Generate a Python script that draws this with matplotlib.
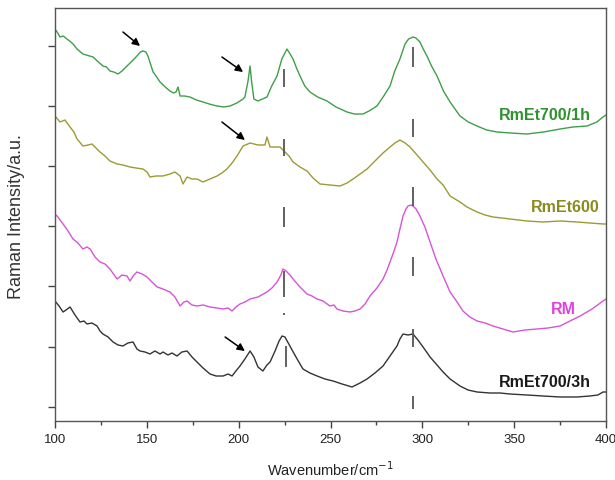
import numpy as np
import matplotlib
matplotlib.use("Agg")
import matplotlib.pyplot as plt

plt.rcParams['font.family'] = ['Liberation Sans', 'DejaVu Sans']

# ---- data: (wavenumber cm^-1, intensity a.u. with stacking offset) ----
rmet700_1h = [
    (100, 392), (101.5, 388), (102.7, 384), (104.5, 385), (106.5, 382), (108, 380),
    (109.8, 377), (112, 372), (115.2, 367), (117, 366), (120.7, 364), (123, 360),
    (126.1, 355), (128, 354), (129.9, 350), (132, 349), (134.3, 347), (136.5, 350),
    (139.2, 355), (142, 360), (144.6, 365), (146.5, 369), (147.9, 370), (149.5, 369),
    (150.6, 365), (152, 357), (153.4, 349), (155, 345), (157.2, 339), (160, 334),
    (162.6, 330), (164.5, 328), (165.9, 329), (167.0, 334), (168.1, 325), (170.5, 325),
    (173.5, 324), (177, 321), (180.6, 319), (184, 317), (188.2, 315), (192, 314),
    (195.3, 315), (199, 318), (202.4, 322), (203.4, 324), (205.1, 340), (206.2, 355),
    (207.0, 340), (208.3, 322), (210.5, 320), (213, 322), (215.4, 324), (218, 335),
    (220.9, 345), (223.5, 362), (226.3, 372), (228, 367), (229.6, 362), (231.5, 353),
    (233.4, 345), (236, 335), (238.8, 329), (243, 324), (248.1, 320), (253, 314),
    (259.0, 309), (263, 307), (267.7, 307), (271, 310), (275.3, 315), (279, 325),
    (282.4, 335), (285, 350), (287.8, 362), (290.6, 377), (292.5, 382), (294.9, 384),
    (296.5, 383), (298.7, 379), (300.5, 372), (302.5, 365), (305, 355), (308.0, 345),
    (311.5, 330), (315.1, 319), (320.5, 305), (325, 299), (329.8, 295), (335, 291),
    (340.7, 289), (348, 288), (357.0, 287), (366, 289), (375.0, 292), (382, 294),
    (389.7, 295), (395, 299), (398.4, 304), (400, 306),
]

rmet600 = [
    (100, 305), (102.7, 299), (105.4, 301), (108.2, 294), (110.3, 289), (112.0, 282),
    (115.2, 275), (118.0, 276), (120.1, 277), (122.3, 273), (124.5, 269), (127.2, 265),
    (129.9, 260), (133.8, 257), (137.0, 256), (140.8, 254), (144.1, 253), (147.9, 252),
    (150.1, 249), (151.7, 244), (155.0, 245), (158.8, 245), (162.6, 247), (165.3, 249),
    (168.1, 245), (169.7, 237), (171.9, 244), (174.6, 242), (177.3, 242), (180.6, 239),
    (184.4, 242), (188.2, 245), (190.9, 248), (193.6, 252), (196.4, 258), (199.1, 265),
    (202.4, 275), (206.2, 278), (210.5, 276), (214.3, 276), (215.4, 284), (217.1, 274),
    (219.8, 274), (222.5, 274), (225.2, 269), (227.4, 265), (229.6, 259), (233.4, 254),
    (237.2, 250), (240.5, 243), (244.3, 237), (249.7, 236), (255.2, 235), (259.0, 238),
    (262.3, 242), (266.1, 247), (269.9, 252), (272.6, 257), (275.3, 262), (278.6, 268),
    (282.4, 274), (285.1, 278), (287.8, 281), (290.6, 278), (293.3, 274), (297.1, 266),
    (300.4, 259), (304.2, 251), (308.0, 242), (311.3, 236), (315.1, 225), (317.8, 222),
    (320.5, 219), (324.3, 214), (329.8, 209), (334.1, 206), (338.5, 204), (343.4, 203),
    (347.7, 202), (357.0, 200), (365.7, 199), (375.0, 200), (384.2, 199), (391.3, 198),
    (398.4, 197), (400, 197),
]

rm = [
    (100, 207), (101.6, 204), (104.4, 197), (107.1, 190), (109.8, 182), (112.5, 178),
    (115.2, 172), (117.4, 174), (119.1, 172), (121.8, 164), (124.5, 159), (127.2, 157),
    (129.9, 152), (133.8, 142), (136.5, 146), (139.2, 145), (140.8, 140), (143.0, 146),
    (144.6, 149), (147.4, 147), (150.1, 144), (152.8, 139), (155.6, 134), (158.8, 132),
    (162.6, 129), (165.3, 124), (168.1, 115), (170.2, 119), (171.9, 120), (174.6, 116),
    (177.3, 115), (180.6, 116), (184.4, 114), (188.2, 113), (191.5, 112), (194.2, 113),
    (196.4, 110), (198.5, 114), (200.7, 117), (203.4, 119), (206.2, 122), (210.5, 124),
    (215.4, 129), (218.1, 133), (220.9, 139), (223.0, 146), (224.1, 152), (225.8, 150),
    (227.9, 146), (229.6, 142), (233.4, 134), (237.2, 127), (239.9, 125), (242.7, 122),
    (245.9, 120), (249.7, 115), (251.9, 116), (253.5, 112), (256.8, 110), (260.6, 109),
    (263.3, 110), (266.1, 112), (268.8, 117), (271.5, 125), (275.3, 133), (278.6, 142),
    (280.8, 151), (282.4, 159), (284.6, 170), (286.2, 179), (287.8, 192), (289.5, 205),
    (291.1, 212), (292.2, 215), (293.8, 216), (294.9, 215), (296.6, 212), (298.7, 205),
    (301.4, 194), (304.2, 179), (307.4, 162), (311.3, 145), (315.1, 129), (318.9, 119),
    (322.1, 110), (325.9, 104), (329.8, 100), (334.1, 98), (338.5, 95), (343.9, 92),
    (349.4, 89), (355.9, 91), (362.4, 92), (368.4, 93), (375.0, 95), (380.4, 100),
    (385.9, 105), (392.4, 112), (398.4, 120), (400, 122),
]

rmet700_3h = [
    (100, 120), (102.2, 115), (104.4, 109), (106.0, 111), (108.2, 114), (110.9, 106),
    (113.6, 99), (115.8, 100), (117.4, 97), (120.1, 98), (122.9, 95), (124.5, 90),
    (126.1, 87), (128.9, 84), (131.6, 79), (134.3, 76), (137.0, 75), (139.7, 78),
    (142.5, 79), (144.6, 72), (146.3, 70), (149.0, 69), (151.7, 67), (154.4, 70),
    (157.2, 67), (158.8, 69), (161.5, 66), (163.7, 68), (166.4, 65), (169.1, 69),
    (171.9, 70), (174.6, 64), (177.3, 59), (180.6, 53), (184.4, 47), (187.7, 45),
    (191.5, 45), (194.2, 47), (196.4, 45), (198.5, 50), (200.7, 55), (203.4, 62),
    (206.2, 70), (208.3, 64), (210.5, 54), (213.2, 50), (215.4, 56), (217.1, 59),
    (219.8, 70), (222.0, 80), (223.6, 85), (225.2, 84), (227.9, 75), (231.2, 64),
    (235.0, 52), (238.8, 48), (242.7, 45), (247.0, 42), (251.4, 40), (256.3, 37),
    (261.7, 34), (266.1, 38), (269.9, 42), (274.2, 48), (278.6, 55), (282.4, 65),
    (286.2, 75), (287.8, 82), (289.5, 87), (292.2, 86), (294.9, 87), (297.6, 81),
    (300.4, 74), (304.2, 64), (308.0, 56), (311.3, 49), (315.1, 42), (320.5, 35),
    (324.9, 31), (329.8, 29), (336.8, 28), (342.3, 28), (347.7, 27), (357.0, 26),
    (365.7, 25), (375.0, 24), (384.2, 24), (391.3, 25), (395.6, 26), (398.4, 29),
    (400, 29),
]

series_names = ["RmEt700/1h", "RmEt600", "RM", "RmEt700/3h"]
series_data = [rmet700_1h, rmet600, rm, rmet700_3h]
line_colors = ["#3f9e4a", "#9c9a33", "#d654d6", "#333333"]
label_colors = ["#2e922e", "#8c8a1e", "#e040e0", "#1a1a1a"]
label_pos = [(366.8, 307), (377.7, 214), (376.6, 112), (366.8, 39)]

# dashed reference marks: (wavenumber, y_start, y_end)
marks = [
    (224.7, 334, 352), (224.7, 265, 282), (224.7, 194, 214), (224.7, 124, 150),
    (224.7, 106, 108), (225.8, 54, 75),
    (294.9, 354, 374), (294.9, 284, 302), (294.9, 215, 234), (294.9, 145, 164),
    (294.9, 74, 92), (294.9, 12, 25),
]

# arrows: (tail_x, tail_y, head_x, head_y)
arrows = [
    (137.0, 389, 146.3, 375),
    (190.9, 364, 202.4, 349),
    (190.9, 299, 203.4, 281),
    (192.6, 84, 203.4, 70),
]

x_major = [100, 150, 200, 250, 300, 350, 400]
y_ticks = [14, 74, 135, 195, 255, 315, 375]

fig = plt.figure(figsize=(6.15, 4.81), dpi=100)
ax = fig.add_axes([55 / 615, 59 / 481, 551 / 615, 413 / 481])

for data, col in zip(series_data, line_colors):
    arr = np.array(data)
    ax.plot(arr[:, 0], arr[:, 1], color=col, lw=1.0)

for xm, y0, y1 in marks:
    ax.plot([xm, xm], [y0, y1], color="#555555", lw=1.3, solid_capstyle="butt")

for tx, ty, hx, hy in arrows:
    ax.annotate("", xy=(hx, hy), xytext=(tx, ty),
                arrowprops=dict(arrowstyle="-|>", color="black", lw=1.1,
                                mutation_scale=11, shrinkA=0, shrinkB=0))

for name, col, (lx, ly) in zip(series_names, label_colors, label_pos):
    ax.text(lx, ly, name, color=col, fontsize=11.5, fontweight="bold",
            ha="center", va="center")

ax.set_xlim(100, 400)
ax.set_ylim(0, 413)
ax.set_xticks(x_major)
ax.set_xticks([125, 175, 225, 275, 325, 375], minor=True)
ax.set_yticks(y_ticks)
ax.set_yticklabels([])
ax.tick_params(axis="both", which="major", direction="out", length=5, width=1,
               color="#444444", labelsize=9.5, labelcolor="#222222")
ax.tick_params(axis="x", which="minor", direction="out", length=3, width=1,
               color="#444444")
for sp in ax.spines.values():
    sp.set_color("#555555")
    sp.set_linewidth(1.0)

fig.text(330 / 615, 1 - 470 / 481, "Wavenumber/cm$^{-1}$", ha="center", va="center",
         fontsize=10.5, color="#222222")
fig.text(17 / 615, 1 - 217 / 481, "Raman Intensity/a.u.", ha="center", va="center",
         rotation=90, fontsize=13, color="#333333")

fig.savefig("out.png", dpi=100)
